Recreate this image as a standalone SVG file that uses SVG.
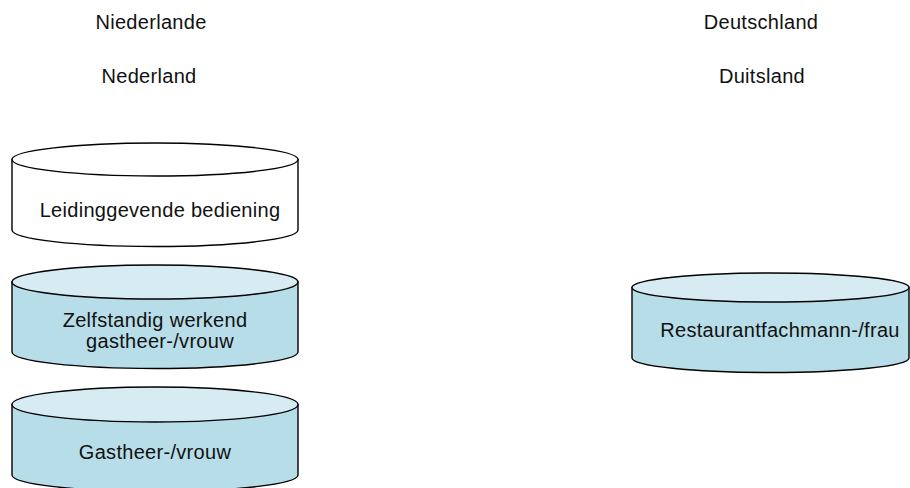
<svg xmlns="http://www.w3.org/2000/svg" width="910" height="488" viewBox="0 0 910 488">
<style>
text{font-family:"Liberation Sans",Arial,sans-serif;font-size:20px;fill:#111;text-anchor:middle;letter-spacing:0.3px}
.body{stroke:#000;stroke-width:1.4}
.top{stroke:#000;stroke-width:1.4}
.blue .body{fill:#b7dde8}
.blue .top{fill:#d6ecf2}
.white .body,.white .top{fill:#fff}
</style>
<rect width="910" height="488" fill="#fff"/>
<g id="headers">
<text x="151" y="29">Niederlande</text>
<text x="149" y="83">Nederland</text>
<text x="761" y="29">Deutschland</text>
<text x="762" y="83">Duitsland</text>
</g>
<g id="leidinggevende" class="white">
<path class="body" d="M12,159.5 V230 A143,16.5 0 0 0 298,230 V159.5 Z"/>
<ellipse class="top" cx="155" cy="159.5" rx="143" ry="16.5"/>
<text x="160" y="217">Leidinggevende bediening</text>
</g>
<g id="zelfstandig" class="blue">
<path class="body" d="M12,282 V352 A143,16.5 0 0 0 298,352 V282 Z"/>
<ellipse class="top" cx="155" cy="282" rx="143" ry="17"/>
<text x="155" y="327">Zelfstandig werkend</text>
<text x="160" y="348">gastheer-/vrouw</text>
</g>
<g id="gastheer" class="blue">
<path class="body" d="M12,404.5 V475 A143,16.5 0 0 0 298,475 V404.5 Z"/>
<ellipse class="top" cx="155" cy="404.5" rx="143" ry="17.5"/>
<text x="155" y="459">Gastheer-/vrouw</text>
</g>
<g id="restaurantfachmann" class="blue">
<path class="body" d="M632,287.5 V358 A138.5,14.5 0 0 0 909,358 V287.5 Z"/>
<ellipse class="top" cx="770.5" cy="287.5" rx="138.5" ry="14.5"/>
<text x="780" y="337">Restaurantfachmann-/frau</text>
</g>
<g id="connectors"></g>
</svg>
